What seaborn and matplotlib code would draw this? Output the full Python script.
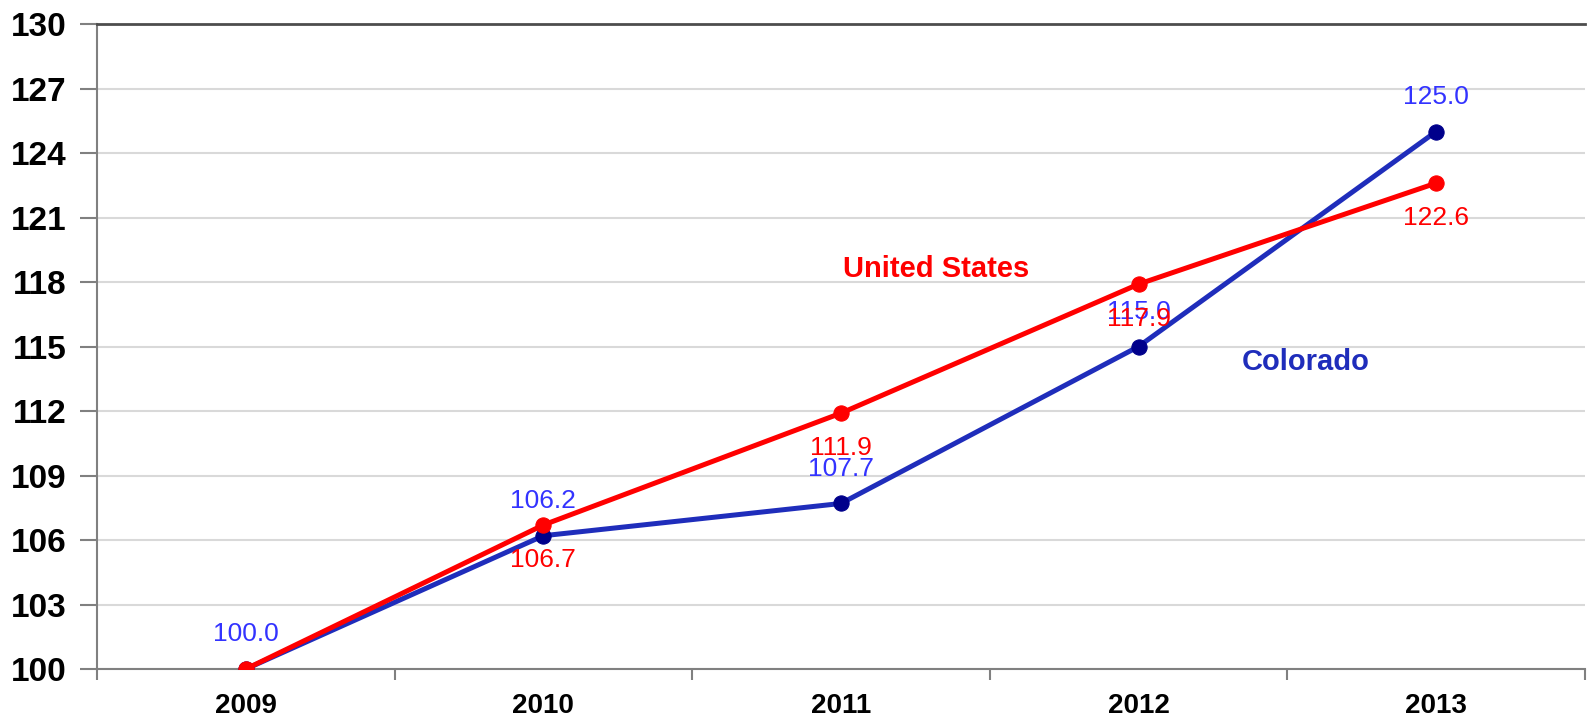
import numpy as np
import pandas as pd
import matplotlib
matplotlib.use("Agg")
import matplotlib.pyplot as plt
import matplotlib.ticker as mticker
import seaborn as sns

# ── Data ──────────────────────────────────────────────────────────────────────
YEARS      = ["2009", "2010", "2011", "2012", "2013"]
COLORADO   = [100.0, 106.2, 107.7, 115.0, 125.0]
US         = [100.0, 106.7, 111.9, 117.9, 122.6]
Y_TICKS    = [100, 103, 106, 109, 112, 115, 118, 121, 124, 127, 130]

CO_LINE   = "#1F2DBB"
CO_MARK   = "#00008B"
CO_LABEL  = "#3333FF"
US_RED    = "#FF0000"

df = pd.DataFrame({
    "year":   YEARS * 2,
    "value":  COLORADO + US,
    "series": ["Colorado"] * len(YEARS) + ["United States"] * len(YEARS),
})

sns.set_style("white")
plt.rcParams["font.family"] = ["Liberation Sans Narrow", "Liberation Sans", "DejaVu Sans"]

fig = plt.figure(figsize=(15.87, 7.17), dpi=100)
ax = fig.add_axes([0.0611, 0.0669, 0.9376, 0.8996])

# ── Lines ─────────────────────────────────────────────────────────────────────
sns.lineplot(data=df[df["series"] == "Colorado"], x="year", y="value",
             color=CO_LINE, linewidth=3.6, marker="o", markersize=11,
             markerfacecolor=CO_MARK, markeredgecolor=CO_MARK, ax=ax, zorder=3)
sns.lineplot(data=df[df["series"] == "United States"], x="year", y="value",
             color=US_RED, linewidth=3.6, marker="o", markersize=11,
             markerfacecolor=US_RED, markeredgecolor=US_RED, ax=ax, zorder=4)

# ── Data labels ───────────────────────────────────────────────────────────────
for i, v in enumerate(COLORADO):
    ax.annotate(f"{v:.1f}", (i, v), xytext=(0, 25), textcoords="offset points",
                ha="center", va="center", fontsize=19, color=CO_LABEL, zorder=5)
for i, v in enumerate(US):
    if i == 0:
        continue
    ax.annotate(f"{v:.1f}", (i, v), xytext=(0, -25), textcoords="offset points",
                ha="center", va="center", fontsize=19, color=US_RED, zorder=6)

ax.text(2.32, 118.6, "United States", color=US_RED, fontsize=21,
        fontweight="bold", ha="center", va="center")
ax.text(3.56, 114.3, "Colorado", color=CO_LINE, fontsize=21,
        fontweight="bold", ha="center", va="center")

# ── Axes styling ──────────────────────────────────────────────────────────────
ax.set_xlim(-0.5, 4.5)
ax.set_ylim(100, 130)
ax.set_yticks(Y_TICKS)
ax.set_xticks(range(len(YEARS)))
ax.set_xticklabels(YEARS)
ax.xaxis.set_minor_locator(mticker.FixedLocator(np.arange(-0.5, 5.0, 1.0)))
ax.tick_params(axis="x", which="major", bottom=False, pad=14, labelsize=20,
               labelcolor="black")
ax.tick_params(axis="x", which="minor", bottom=True, length=8, width=1.5,
               color="#808080", direction="out")
ax.tick_params(axis="y", which="major", left=True, length=12, width=1.5,
               color="#808080", direction="out", pad=10, labelsize=24,
               labelcolor="black")
for lbl in ax.get_xticklabels() + ax.get_yticklabels():
    lbl.set_fontweight("bold")

ax.grid(axis="y", color="#D9D9D9", linewidth=1.5)
ax.set_axisbelow(True)
ax.set_xlabel("")
ax.set_ylabel("")

ax.spines["right"].set_visible(False)
ax.spines["left"].set_color("#808080")
ax.spines["left"].set_linewidth(1.5)
ax.spines["bottom"].set_color("#808080")
ax.spines["bottom"].set_linewidth(1.5)
ax.spines["top"].set_color("#4D4D4D")
ax.spines["top"].set_linewidth(2)

fig.savefig("out.png", dpi=100)
